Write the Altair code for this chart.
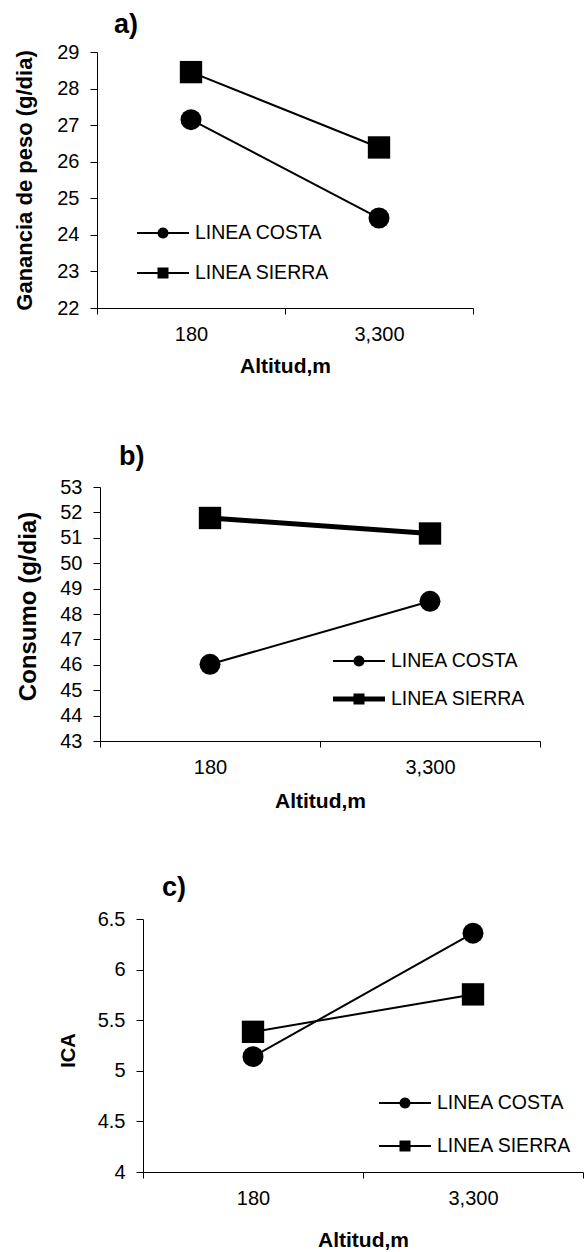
import altair as alt
import pandas as pd

# ---------------- data ----------------
altitudes = ["180", "3,300"]
series = ["LINEA COSTA", "LINEA SIERRA"]

ganancia_costa = [27.15, 24.46]
ganancia_sierra = [28.45, 26.39]

consumo_costa = [46.02, 48.50]
consumo_sierra = [51.78, 51.17]

ica_costa = [5.14, 6.36]
ica_sierra = [5.385, 5.755]

FONT = "Liberation Sans"


def sym_path(marker, half_line):
    """legend symbol: a short line with a marker in the middle (unit = 15 px)"""
    u = 15.0
    left = -1.0
    right = left + 52 / u
    cx = left + 26 / u
    r = 5.5 / u
    h = half_line / u
    p = f"M{left:.4f},{-h:.4f}H{right:.4f}V{h:.4f}H{left:.4f}Z"
    if marker == "circle":
        p += (f"M{cx + r:.4f},0A{r:.4f},{r:.4f} 0 1,1 {cx - r:.4f},0"
              f"A{r:.4f},{r:.4f} 0 1,1 {cx + r:.4f},0Z")
    else:
        p += f"M{cx - r:.4f},{-r:.4f}H{cx + r:.4f}V{r:.4f}H{cx - r:.4f}Z"
    return p


def make_legend(value, path, lx, ly):
    return alt.Legend(
        title=None, orient="none", legendX=lx, legendY=ly, padding=0,
        values=[value],
        labelFont=FONT, labelFontSize=19.5, labelColor="black", labelOffset=28,
        symbolSize=900, symbolStrokeWidth=0, symbolFillColor="black",
        symbolOpacity=1, symbolType=path,
    )


def panel(costa, sierra, ydom, yticks, yfmt, ytitle, ytitle_size, ytitle_x,
          ytitle_y, x_range, y_range, height, widths, lx, ly, row_gap,
          letter, letter_dx, letter_offset, xtitle_y, xtitle_x=None):
    serie_col = [series[0]] * 2 + [series[1]] * 2
    df = pd.DataFrame({
        "alt": altitudes * 2,
        "val": list(costa) + list(sierra),
        # one copy of the series column per channel, so that Vega-Lite
        # keeps the two legends apart
        "s_line": serie_col,
        "s_color": serie_col,
        "s_opac": serie_col,
        "s_shape": serie_col,
        "s_size": serie_col,
    })
    xaxis_kw = dict(
        title="Altitud,m", titleFont=FONT, titleFontSize=21,
        titleFontWeight="bold", titleColor="black", titleY=xtitle_y,
        titleBaseline="top", labelAngle=0, labelFont=FONT, labelFontSize=20,
        labelColor="black", labelPadding=10, tickSize=6, tickBand="extent",
        domainColor="black", tickColor="black", grid=False,
        offset=y_range[0] - height,
    )
    if xtitle_x is not None:
        xaxis_kw["titleX"] = xtitle_x
    x = alt.X("alt:N", sort=altitudes,
              scale=alt.Scale(type="band", range=list(x_range),
                              paddingInner=0, paddingOuter=0),
              axis=alt.Axis(**xaxis_kw))
    y = alt.Y("val:Q",
              scale=alt.Scale(domain=list(ydom), range=list(y_range),
                              nice=False, zero=False),
              axis=alt.Axis(values=yticks, format=yfmt, title=ytitle,
                            titleFont=FONT, titleFontSize=ytitle_size,
                            titleFontWeight="bold", titleColor="black",
                            titleAngle=270, titleX=ytitle_x, titleY=ytitle_y,
                            titleBaseline="middle", titleAlign="center",
                            offset=-x_range[0], tickSize=7, labelPadding=11,
                            labelFont=FONT, labelFontSize=20,
                            labelColor="black", domainColor="black",
                            tickColor="black", grid=False,
                            labelOverlap=False))
    path_c = sym_path("circle", widths[0] / 2.0)
    path_s = sym_path("square", widths[1] / 2.0)
    base = alt.Chart(df)
    line = base.mark_line(color="black").encode(
        x=x, y=y, detail="s_line:N",
        strokeWidth=alt.StrokeWidth("s_line:N",
                                    scale=alt.Scale(range=list(widths)),
                                    legend=None),
    )
    pts = base.mark_point(filled=True).encode(
        x=x, y=y,
        color=alt.Color("s_color:N",
                        scale=alt.Scale(range=["black", "black"]),
                        legend=make_legend(series[0], path_c, lx, ly)),
        opacity=alt.Opacity("s_opac:N",
                            scale=alt.Scale(range=[1, 1]),
                            legend=make_legend(series[1], path_s, lx,
                                               ly + row_gap)),
        shape=alt.Shape("s_shape:N",
                        scale=alt.Scale(range=["circle", "square"]),
                        legend=None),
        size=alt.Size("s_size:N",
                      scale=alt.Scale(range=[440, 500]),
                      legend=None),
    )
    return alt.layer(line, pts).properties(
        width=584, height=height,
        title=alt.TitleParams(text=letter, anchor="start", frame="group",
                              dx=letter_dx, offset=letter_offset,
                              baseline="alphabetic", font=FONT, fontSize=27,
                              fontWeight="bold", color="black"),
    )


# panel slots: a 0-400, b 400-830, c 830-1252
pa = panel(ganancia_costa, ganancia_sierra, (22, 29), list(range(22, 30)), "d",
           "Ganancia de peso (g/dia)", 22, -73, 180, (97, 473), (308, 52),
           400, (2, 2), 137, 218, 40, "a)", 114, -60, 47)
pb = panel(consumo_costa, consumo_sierra, (43, 53), list(range(43, 54)), "d",
           "Consumo (g/dia)", 24, -72, 206, (100, 540), (341, 87),
           430, (2, 5), 333, 246, 38, "b)", 119, -92, 49)
pc = panel(ica_costa, ica_sierra, (4, 6.5), [4, 4.5, 5, 5.5, 6, 6.5], ".1~f",
           "ICA", 20, -75, 220, (143, 583), (342, 89),
           422, (2, 2), 379, 258, 43, "c)", 162, -93, 57, 363)

chart = (
    alt.vconcat(pa, pb, pc, spacing=0, bounds="flush")
    .resolve_scale(x="independent", y="independent", shape="independent",
                   size="independent", strokeWidth="independent",
                   color="independent", opacity="independent")
    .resolve_legend(color="independent", opacity="independent")
    .properties(padding=0, autosize=alt.AutoSizeParams(type="pad"),
                background="white")
    .configure_view(stroke=None)
)

chart.save("out.html", embed_options={"renderer": "svg", "actions": False})
